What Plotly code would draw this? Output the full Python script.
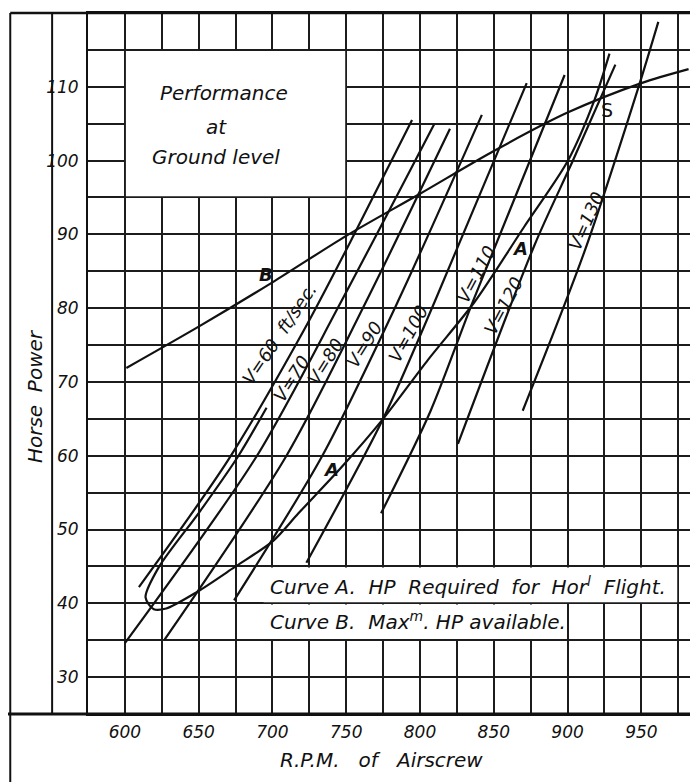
import plotly.graph_objects as go

# ---------------- data ----------------
rpm_ticks = [600, 650, 700, 750, 800, 850, 900, 950]
hp_ticks = [30, 40, 50, 60, 70, 80, 90, 100, 110]

# Curve B : maximum HP available
b_rpm = [601, 650, 700, 750, 800, 850, 900, 950, 982]
b_hp = [71.9, 77.5, 83.5, 89.8, 95.5, 101.3, 106.5, 110.5, 112.4]

# Curve A : HP required for horizontal flight (loop at low rpm)
a_rpm = [696, 677, 651, 623, 614, 619.6, 628, 648.6, 674.3, 700.7, 717.6, 746.6,
         775, 805.4, 837.2, 870.5, 900, 918.2, 928.4]
a_hp = [66.5, 60, 52.5, 44.9, 40.8, 39.2, 39.3, 41.5, 44.9, 48.5, 52.2, 58.4,
        65, 73.0, 80.9, 91, 99.9, 108.2, 114.5]

# constant-speed lines V = 60 ... 130 ft/sec
v60_rpm = [609.5, 669.6, 721, 755.4, 794.6]
v60_hp = [42.2, 59.3, 76.9, 90, 105.5]
v70_rpm = [600, 689.2, 746.6, 809.5]
v70_hp = [34.6, 59.9, 80.9, 104.9]
v80_rpm = [627, 709.5, 763.5, 820.3]
v80_hp = [35.1, 60, 80.9, 104.3]
v90_rpm = [674, 733.8, 785, 841.9]
v90_hp = [40.4, 60, 80.9, 106.2]
v100_rpm = [723, 775, 810, 872.3]
v100_hp = [45.5, 65, 80.9, 110.5]
v110_rpm = [773.6, 807, 836, 898]
v110_hp = [52.2, 66, 81, 111.6]
v120_rpm = [825.7, 877.7, 903.4, 932.4]
v120_hp = [61.6, 88.6, 99.9, 113]
v130_rpm = [869.6, 911.5, 948.6, 961.5]
v130_hp = [66.1, 87.7, 110.3, 118.8]

v_labels = ["V=60\u00a0\u00a0ft/sec.", "V=70", "V=80", "V=90", "V=100", "V=110", "V=120", "V=130"]
v_label_rpm = [705, 712.8, 735.8, 762.2, 791.9, 837.8, 856.8, 912.2]
v_label_hp = [76.5, 70.5, 72.8, 75.1, 76.6, 84.6, 80.3, 91.8]
v_label_angle = [-56, -57, -58, -58, -61, -62, -62, -66]

curve_labels = ["A", "A", "B", "S"]
curve_label_rpm = [867.6, 739.9, 695.3, 926.4]
curve_label_hp = [88.1, 58.2, 84.6, 106.8]

title_lines = ["Performance", "at", "Ground level"]
title_rpm = [667, 662, 662]
title_hp = [109.1, 104.6, 100.5]

legend_lines = ["Curve A.\u00a0\u00a0HP\u00a0\u00a0Required\u00a0\u00a0for\u00a0\u00a0Hor<sup>l</sup>\u00a0\u00a0Flight.",
                "Curve B.\u00a0\u00a0Max<sup>m</sup>. HP available."]
legend_rpm = [697.3, 697.3]
legend_hp = [42.4, 37.6]

# ---------------- figure ----------------
INK = "#111111"
FONT = "DejaVu Sans"

fig = go.Figure()

series = [
    (b_rpm, b_hp), (a_rpm, a_hp),
    (v60_rpm, v60_hp), (v70_rpm, v70_hp), (v80_rpm, v80_hp), (v90_rpm, v90_hp),
    (v100_rpm, v100_hp), (v110_rpm, v110_hp), (v120_rpm, v120_hp), (v130_rpm, v130_hp),
]
for xs, ys in series:
    fig.add_trace(go.Scatter(x=xs, y=ys, mode="lines",
                             line=dict(color=INK, width=2.2, shape="spline", smoothing=0.8),
                             hoverinfo="skip", showlegend=False))

ann = []
for t, x, y, a in zip(v_labels, v_label_rpm, v_label_hp, v_label_angle):
    ann.append(dict(x=x, y=y, text=t, textangle=a, showarrow=False,
                    font=dict(family=FONT, size=18, style="italic", color=INK)))
for t, x, y in zip(curve_labels, curve_label_rpm, curve_label_hp):
    if t == "S":
        f = dict(family=FONT, size=19, color=INK)
    else:
        f = dict(family=FONT, size=18, style="italic", color=INK, weight="bold")
    ann.append(dict(x=x, y=y, text=t, showarrow=False, font=f))
for t, x, y in zip(title_lines, title_rpm, title_hp):
    ann.append(dict(x=x, y=y, text=t, showarrow=False,
                    font=dict(family=FONT, size=20, style="italic", color=INK)))
for t, x, y in zip(legend_lines, legend_rpm, legend_hp):
    ann.append(dict(x=x, y=y, text=t, showarrow=False, xanchor="left",
                    font=dict(family=FONT, size=20, style="italic", color=INK)))
# axis titles
ann.append(dict(xref="paper", yref="paper", x=0.485, y=-0.0654,
                xanchor="center", yanchor="middle",
                text="R.P.M.\u00a0\u00a0\u00a0of\u00a0\u00a0\u00a0Airscrew", showarrow=False,
                font=dict(family=FONT, size=20, style="italic", color=INK)))
ann.append(dict(xref="paper", yref="paper", x=-0.0873, y=0.4538, textangle=-90,
                xanchor="center", yanchor="middle",
                text="Horse\u00a0\u00a0Power", showarrow=False,
                font=dict(family=FONT, size=20, style="italic", color=INK)))

shapes = []
# white panels hiding the grid behind the texts
shapes.append(dict(type="rect", xref="x", yref="y", x0=600.7, x1=749.3, y0=95.15, y1=114.85,
                   fillcolor="white", line=dict(width=0), layer="between"))
shapes.append(dict(type="rect", xref="x", yref="y", x0=694, x1=974.3, y0=40.15, y1=44.85,
                   fillcolor="white", line=dict(width=0), layer="between"))
shapes.append(dict(type="rect", xref="x", yref="y", x0=694, x1=899.3, y0=35.15, y1=39.85,
                   fillcolor="white", line=dict(width=0), layer="between"))
# outer frame of the drawing
frame = dict(color=INK, width=2)
shapes.append(dict(type="line", xref="paper", yref="paper", x0=-0.1285, x1=-0.1285,
                   y0=-0.12, y1=1.0, line=frame))
shapes.append(dict(type="line", xref="paper", yref="paper", x0=-0.0593, x1=-0.0593,
                   y0=0, y1=1.0, line=frame))
shapes.append(dict(type="line", xref="paper", yref="paper", x0=-0.1285, x1=1.0,
                   y0=1.0, y1=1.0, line=dict(color=INK, width=2.5)))
shapes.append(dict(type="line", xref="paper", yref="paper", x0=-0.133, x1=1.0,
                   y0=0, y1=0, line=dict(color=INK, width=3)))

grid = dict(color="#1c1c1c", width=1.6)
# the page body keeps an 8 px margin, so the figure is 8 px smaller on each side
fig.update_layout(
    width=690, height=774,
    margin=dict(l=80, r=3, t=3, b=68),
    paper_bgcolor="white", plot_bgcolor="white",
    showlegend=False,
    annotations=ann, shapes=shapes,
    xaxis=dict(range=[575, 985], tickvals=rpm_ticks, showgrid=True,
               gridcolor=grid["color"], gridwidth=grid["width"],
               minor=dict(tick0=575, dtick=25, showgrid=True,
                          gridcolor=grid["color"], gridwidth=grid["width"]),
               showline=True, mirror=True, linecolor=INK, linewidth=2,
               zeroline=False, ticks="", ticklabelstandoff=2,
               tickfont=dict(family=FONT, size=17, style="italic", color=INK)),
    yaxis=dict(range=[25, 120], tickvals=hp_ticks, showgrid=True,
               gridcolor=grid["color"], gridwidth=grid["width"],
               minor=dict(tick0=25, dtick=5, showgrid=True,
                          gridcolor=grid["color"], gridwidth=grid["width"]),
               showline=True, mirror=True, linecolor=INK, linewidth=2,
               zeroline=False, ticks="", ticklabelstandoff=4,
               tickfont=dict(family=FONT, size=17, style="italic", color=INK)),
)

fig.write_html("out.html")
